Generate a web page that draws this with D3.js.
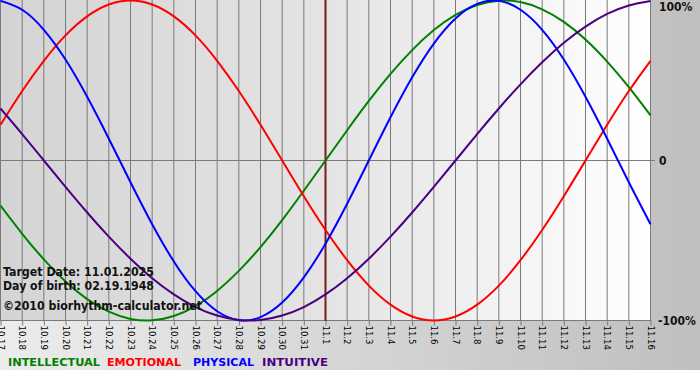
<!DOCTYPE html>
<html><head><meta charset="utf-8">
<script src="https://cdn.jsdelivr.net/npm/d3@7"></script>
<style>html,body{margin:0;padding:0;background:#fff;}svg{display:block;}</style>
</head><body>
<svg id="c" width="700" height="380"></svg>
<script>
const dates = ["10.17","10.18","10.19","10.20","10.21","10.22","10.23","10.24","10.25","10.26","10.27","10.28","10.29","10.30","10.31","11.1","11.2","11.3","11.4","11.5","11.6","11.7","11.8","11.9","11.10","11.11","11.12","11.13","11.14","11.15","11.16"];
const intellectual = [-0.282,-0.458,-0.618,-0.756,-0.866,-0.945,-0.990,-0.999,-0.972,-0.910,-0.815,-0.690,-0.541,-0.372,-0.189,0,0.189,0.372,0.541,0.690,0.815,0.910,0.972,0.999,0.990,0.945,0.866,0.756,0.618,0.458,0.282];
const emotional = [0.223,0.434,0.623,0.782,0.901,0.975,1.000,0.975,0.901,0.782,0.623,0.434,0.223,0,-0.223,-0.434,-0.623,-0.782,-0.901,-0.975,-1.000,-0.975,-0.901,-0.782,-0.623,-0.434,-0.223,0,0.223,0.434,0.623];
const physical = [0.998,0.942,0.817,0.631,0.398,0.136,-0.136,-0.398,-0.631,-0.817,-0.942,-0.998,-0.979,-0.888,-0.731,-0.520,-0.270,0,0.270,0.520,0.731,0.888,0.979,0.998,0.942,0.817,0.631,0.398,0.136,-0.136,-0.398];
const intuitive = [0.325,0.165,0,-0.165,-0.325,-0.476,-0.614,-0.736,-0.837,-0.916,-0.969,-0.997,-0.997,-0.969,-0.916,-0.837,-0.736,-0.614,-0.476,-0.325,-0.165,0,0.165,0.325,0.476,0.614,0.736,0.837,0.916,0.969,0.997];
const seriesNames = ["INTELLECTUAL","EMOTIONAL","PHYSICAL","INTUITIVE"];
const yTickLabels = ["100%","0","-100%"];
const yTickValues = [1,0,-1];
const targetIndex = 15;
const infoLines = ["Target Date: 11.01.2025","Day of birth: 02.19.1948","\u00A92010 biorhythm-calculator.net"];

const colors = ["#008000","#ff0000","#0000ff","#4b0082"];
const seriesData = [intellectual, emotional, physical, intuitive];

const svg = d3.select("#c");
const defs = svg.append("defs");
const g1 = defs.append("linearGradient").attr("id","bg").attr("x1","0").attr("x2","1").attr("y1","0").attr("y2","0");
g1.append("stop").attr("offset","0").attr("stop-color","#ececec");
g1.append("stop").attr("offset","1").attr("stop-color","#bfbfbf");
const g2 = defs.append("linearGradient").attr("id","pl").attr("x1","0").attr("x2","1").attr("y1","0").attr("y2","0");
g2.append("stop").attr("offset","0").attr("stop-color","#d4d4d4");
g2.append("stop").attr("offset","0.5").attr("stop-color","#e4e4e4");
g2.append("stop").attr("offset","1").attr("stop-color","#ffffff");

const x = d3.scaleLinear().domain([0, dates.length-1]).range([0.5, 650.5]);
const y = d3.scaleLinear().domain([-1, 1]).range([320.5, 0.5]);

svg.append("rect").attr("x",0).attr("y",0).attr("width",700).attr("height",370).attr("fill","url(#bg)");
svg.append("rect").attr("x",0).attr("y",0).attr("width",650).attr("height",321).attr("fill","url(#pl)");

// vertical grid
svg.append("g").selectAll("line").data(dates).join("line")
  .attr("x1",(d,i)=>x(i)).attr("x2",(d,i)=>x(i))
  .attr("y1",0).attr("y2",321)
  .attr("stroke","#7a7a7a").attr("stroke-width",1);

// zero line and bottom
svg.append("line").attr("x1",0).attr("x2",655).attr("y1",y(0)).attr("y2",y(0)).attr("stroke","#7a7a7a");
svg.append("line").attr("x1",0).attr("x2",651).attr("y1",y(-1)).attr("y2",y(-1)).attr("stroke","#7a7a7a");

// x axis
const xAxis = d3.axisBottom(x).tickValues(d3.range(dates.length)).tickFormat(i=>dates[i]).tickSize(5).tickPadding(3);
const ax = svg.append("g").attr("transform",`translate(0,${y(-1)})`).call(xAxis);
ax.select(".domain").remove();
ax.selectAll(".tick line").attr("stroke","#7a7a7a");
ax.selectAll(".tick text")
  .attr("transform","rotate(90)")
  .attr("x",5).attr("y",0).attr("dy","0.35em")
  .attr("text-anchor","start")
  .attr("font-family","'DejaVu Sans Condensed','DejaVu Sans',sans-serif")
  .attr("font-size","9.5px").attr("fill","#000");

// target line
svg.append("line").attr("x1",x(targetIndex)).attr("x2",x(targetIndex)).attr("y1",0).attr("y2",321)
  .attr("stroke","#7d1a1a").attr("stroke-width",2);

// curves
const line = d3.line().x((d,i)=>x(i)).y(d=>y(d)).curve(d3.curveNatural);
svg.append("g").selectAll("path").data(seriesData).join("path")
  .attr("d",d=>line(d)).attr("fill","none")
  .attr("stroke",(d,i)=>colors[i]).attr("stroke-width",2);

// right axis labels
const yAxis = d3.axisRight(y).tickValues(yTickValues).tickFormat((d,i)=>yTickLabels[i]).tickSize(0).tickPadding(9);
const ay = svg.append("g").attr("transform","translate(650,0)").call(yAxis);
ay.select(".domain").remove();
ay.selectAll(".tick text").attr("font-family","'DejaVu Sans Condensed','DejaVu Sans',sans-serif")
  .attr("font-weight","bold").attr("font-size","12px").attr("fill","#111");
ay.selectAll(".tick").filter(d=>d===1).select("text").attr("dy","0.35em").attr("y",6);
ay.selectAll(".tick").filter(d=>d===-1).select("text").attr("x",8);

// info text
const infoW = [151,151,199];
svg.append("g").selectAll("text").data(infoLines).join("text")
  .attr("x",3).attr("y",(d,i)=>[276,290,310][i])
  .attr("textLength",(d,i)=>infoW[i]).attr("lengthAdjust","spacingAndGlyphs")
  .attr("font-family","'DejaVu Sans Condensed','DejaVu Sans',sans-serif")
  .attr("font-weight","bold").attr("font-size","12px").attr("fill","#111")
  .text(d=>d);

// legend
const legX = [8,107,193,262];
const legW = [92,74,61,66];
svg.append("g").selectAll("text").data(seriesNames).join("text")
  .attr("x",(d,i)=>legX[i]).attr("y",366)
  .attr("textLength",(d,i)=>legW[i]).attr("lengthAdjust","spacingAndGlyphs")
  .attr("font-family","'DejaVu Sans',sans-serif")
  .attr("font-weight","bold").attr("font-size","11px")
  .attr("fill",(d,i)=>colors[i]).text(d=>d);
</script>
</body></html>
